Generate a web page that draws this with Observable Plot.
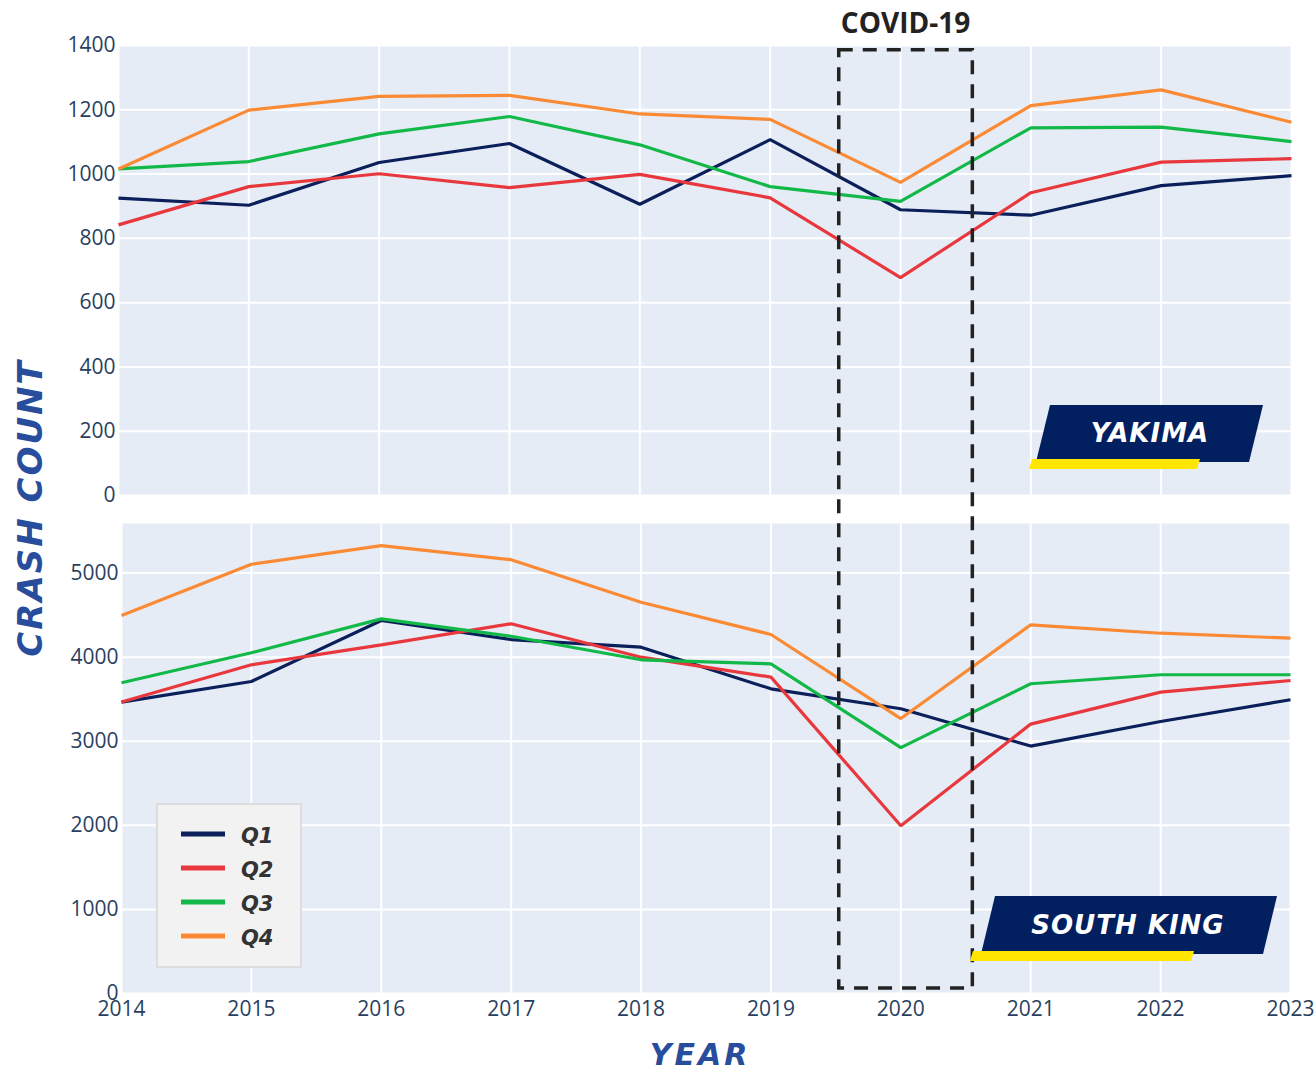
<!DOCTYPE html>
<html><head><meta charset="utf-8">
<script src="https://cdn.jsdelivr.net/npm/d3@7"></script>
<script src="https://cdn.jsdelivr.net/npm/@observablehq/plot@0.6"></script>
<style>
html,body{margin:0;padding:0;background:#fff;}
#chart{position:relative;width:1316px;height:1073px;overflow:hidden;}
#chart > svg{position:absolute;left:0;}
</style></head><body><div id="chart"></div>
<script>
const years = [2014,2015,2016,2017,2018,2019,2020,2021,2022,2023];
const quarters = ["Q1","Q2","Q3","Q4"];
const quarterColors = ["#0b1f5b","#e8383d","#12b948","#fb8a35"];

const yakimaQ1 = [925, 903, 1036, 1095, 906, 1107, 889, 872, 964, 995];
const yakimaQ2 = [842, 961, 1001, 958, 999, 926, 678, 942, 1037, 1048];
const yakimaQ3 = [1016, 1039, 1125, 1179, 1091, 961, 915, 1144, 1146, 1101];
const yakimaQ4 = [1016, 1199, 1242, 1245, 1187, 1170, 974, 1213, 1262, 1161];

const southKingQ1 = [3466, 3711, 4436, 4210, 4119, 3624, 3387, 2943, 3235, 3494];
const southKingQ2 = [3466, 3909, 4147, 4397, 4000, 3763, 1995, 3204, 3584, 3723];
const southKingQ3 = [3696, 4052, 4456, 4249, 3969, 3921, 2924, 3684, 3791, 3791];
const southKingQ4 = [4495, 5105, 5327, 5160, 4653, 4270, 3270, 4385, 4285, 4226];

const yakimaTicks = [0,200,400,600,800,1000,1200,1400];
const southKingTicks = [0,1000,2000,3000,4000,5000];
const yakimaDomain = [0, 1400];
const southKingDomain = [0, 5590];

const covidYears = [2019.53, 2020.555];
const covidTopValue = 1385;     // Yakima units
const covidBottomValue = 60;    // South King units

function toRows(series) {
  const rows = [];
  series.forEach((vals, i) => vals.forEach((v, j) => rows.push({year: years[j], value: v, quarter: quarters[i]})));
  return rows;
}
const yakimaRows = toRows([yakimaQ1, yakimaQ2, yakimaQ3, yakimaQ4]);
const southKingRows = toRows([southKingQ1, southKingQ2, southKingQ3, southKingQ4]);

const font = "'Open Sans', sans-serif";
const tickColor = "#2a3f5f";

function panel({rows, domain, ticks, width, height, mL, mR, mT, mB, showX}) {
  const marks = [
    Plot.frame({fill: "#e5ecf6", stroke: "none"}),
    Plot.gridX(years, {stroke: "#ffffff", strokeOpacity: 1, strokeWidth: 2}),
    Plot.gridY(ticks, {stroke: "#ffffff", strokeOpacity: 1, strokeWidth: 2}),
    Plot.axisY(ticks, {tickSize: 0, tickPadding: 3, label: null, fontSize: 21, fill: tickColor, fontFamily: font, tickFormat: d => String(d)}),
    Plot.lineY(rows, {x: "year", y: "value", stroke: "quarter", strokeWidth: 3.2, strokeLinejoin: "miter", strokeLinecap: "butt"})
  ];
  if (showX) marks.push(Plot.axisX(years, {tickSize: 0, tickPadding: 8, label: null, fontSize: 21, fill: tickColor, fontFamily: font, tickFormat: d => String(d)}));
  return Plot.plot({
    width, height, marginLeft: mL, marginRight: mR, marginTop: mT, marginBottom: mB,
    x: {domain: [2014, 2023], axis: null},
    y: {domain, axis: null},
    color: {domain: quarters, range: quarterColors},
    style: {background: "transparent", fontFamily: font, overflow: "visible"},
    marks
  });
}

const chart = document.getElementById("chart");
const topOffset = 0, bottomOffset = 505;
const topPlot = panel({rows: yakimaRows, domain: yakimaDomain, ticks: yakimaTicks, width: 1316, height: 505, mL: 118, mR: 25, mT: 45, mB: 10, showX: false});
topPlot.style.top = topOffset + "px";
chart.appendChild(topPlot);
const bottomPlot = panel({rows: southKingRows, domain: southKingDomain, ticks: southKingTicks, width: 1316, height: 568, mL: 121, mR: 26, mT: 18, mB: 80, showX: true});
bottomPlot.style.top = bottomOffset + "px";
chart.appendChild(bottomPlot);

// overlay annotations
const tx = topPlot.scale("x"), ty = topPlot.scale("y");
const bx = bottomPlot.scale("x"), by = bottomPlot.scale("y");
const ov = d3.select(chart).append("svg")
  .attr("width", 1316).attr("height", 1073)
  .style("position", "absolute").style("top", "0px").style("left", "0px").style("pointer-events", "none");

// COVID box
const cx0 = tx.apply(covidYears[0]), cx1 = tx.apply(covidYears[1]);
const cy0 = topOffset + ty.apply(covidTopValue), cy1 = bottomOffset + by.apply(covidBottomValue);
ov.append("rect").attr("x", cx0).attr("y", cy0).attr("width", cx1 - cx0).attr("height", cy1 - cy0)
  .attr("fill", "none").attr("stroke", "#222").attr("stroke-width", 3.5).attr("stroke-dasharray", "14,10");
ov.append("text").attr("x", (cx0 + cx1) / 2).attr("y", cy0 - 28).attr("text-anchor", "middle").attr("dominant-baseline", "central")
  .attr("font-family", font).attr("font-weight", 700).attr("font-size", 28).attr("fill", "#222").text("COVID-19");

// Axis titles
const boldItalic = "'DejaVu Sans', sans-serif";
ov.append("text").attr("transform", "translate(30,508) rotate(-90)").attr("text-anchor", "middle").attr("dominant-baseline", "central")
  .attr("font-family", boldItalic).attr("font-weight", 700).attr("font-style", "italic").attr("font-size", 34).attr("letter-spacing", 2)
  .attr("fill", "#274d9c").text("CRASH COUNT");
ov.append("text").attr("x", 700).attr("y", 1054).attr("text-anchor", "middle").attr("dominant-baseline", "central")
  .attr("font-family", boldItalic).attr("font-weight", 700).attr("font-style", "italic").attr("font-size", 30).attr("letter-spacing", 3)
  .attr("fill", "#274d9c").text("YEAR");

// Region badges (positioned from each panel's bottom-right corner)
function badge(label, rightX, bottomY, dxNavy, dyNavy, wNavy, hNavy, dxYellow, wYellow, textX, textY) {
  const slant = 14;
  const x0 = rightX - dxNavy, y0 = bottomY - dyNavy;
  ov.append("polygon").attr("points", [
    [x0 + slant, y0], [x0 + slant + wNavy, y0], [x0 + wNavy, y0 + hNavy], [x0, y0 + hNavy]
  ].map(p => p.join(",")).join(" ")).attr("fill", "#021f5f");
  const yx = rightX - dxYellow, yy = y0 + hNavy - 3, yh = 10;
  ov.append("polygon").attr("points", [
    [yx + 3, yy], [yx + 3 + wYellow, yy], [yx + wYellow, yy + yh], [yx, yy + yh]
  ].map(p => p.join(",")).join(" ")).attr("fill", "#ffe600");
  ov.append("text").attr("x", textX).attr("y", textY).attr("text-anchor", "middle").attr("dominant-baseline", "central")
    .attr("font-family", boldItalic).attr("font-weight", 700).attr("font-style", "italic").attr("font-size", 26).attr("letter-spacing", 1)
    .attr("fill", "#ffffff").text(label);
}
const tR = tx.range[1], tB = topOffset + ty.range[0];
const bR = bx.range[1], bB = bottomOffset + by.range[0];
badge("YAKIMA", tR, tB, 255, 90, 213, 57, 262, 168, tR - 141, tB - 62);
badge("SOUTH KING", bR, bB, 309, 97, 282, 58, 320, 221, bR - 162, bB - 68);

// Legend
const lg = ov.append("g");
const lx = 157, ly = 804;
lg.append("rect").attr("x", lx).attr("y", ly).attr("width", 144).attr("height", 163)
  .attr("fill", "#f2f2f2").attr("stroke", "#dddddd").attr("stroke-width", 2);
quarters.forEach((q, i) => {
  const yy = ly + 30 + i * 34;
  lg.append("line").attr("x1", lx + 24).attr("x2", lx + 68).attr("y1", yy).attr("y2", yy)
    .attr("stroke", quarterColors[i]).attr("stroke-width", 5);
  lg.append("text").attr("x", lx + 84).attr("y", yy + 2).attr("dominant-baseline", "central")
    .attr("font-family", boldItalic).attr("font-weight", 700).attr("font-style", "italic").attr("font-size", 21)
    .attr("fill", "#333").text(q);
});
</script></body></html>
